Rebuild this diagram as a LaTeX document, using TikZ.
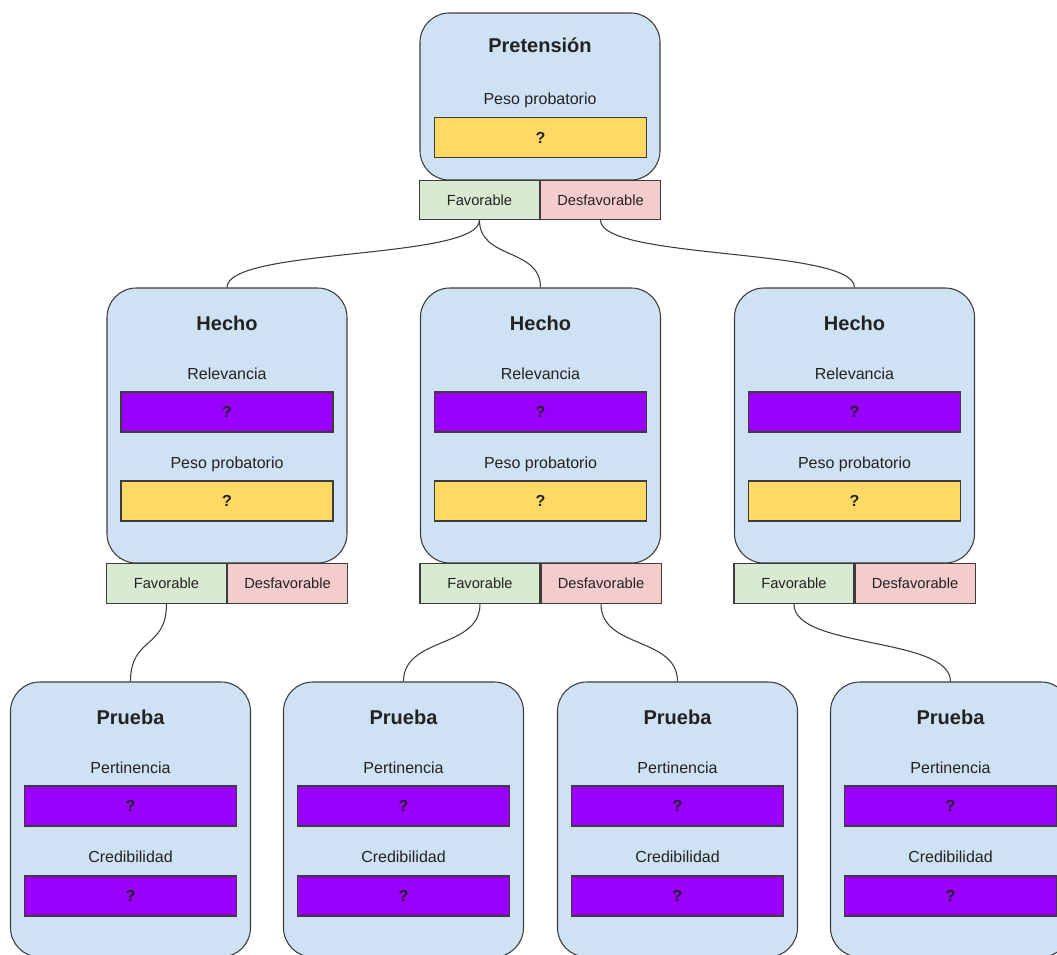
\documentclass[tikz,border=0pt]{standalone}
\usepackage{fontspec}
\setmainfont{Liberation Sans}
\definecolor{cardblue}{HTML}{CFE2F3}
\definecolor{yel}{HTML}{FFD966}
\definecolor{pur}{HTML}{9900FF}
\definecolor{grn}{HTML}{D9EAD3}
\definecolor{pnk}{HTML}{F4CCCC}
\definecolor{linec}{HTML}{3C3C3C}
\definecolor{txt}{HTML}{222222}
\begin{document}
\begin{tikzpicture}[x=0.75pt,y=-0.75pt,
  card/.style={draw=linec, fill=cardblue, rounded corners=22pt, line width=0.8pt, minimum width=180pt, inner sep=0pt},
  valbox/.style={draw=linec, line width=0.8pt, minimum width=159pt, minimum height=30pt, inner sep=0pt, text=txt, font=\fontsize{12}{14}\selectfont\bfseries},
  yellowbox/.style={valbox, fill=yel},
  purplebox/.style={valbox, fill=pur},
  choice/.style={draw=linec, line width=0.8pt, minimum width=90pt, minimum height=30pt, inner sep=0pt, text=txt, font=\fontsize{11}{13}\selectfont},
  favbox/.style={choice, fill=grn},
  desbox/.style={choice, fill=pnk},
  title/.style={text=txt, inner sep=0pt, font=\fontsize{15}{18}\selectfont\bfseries},
  lab/.style={text=txt, inner sep=0pt, font=\fontsize{12}{14}\selectfont},
  conn/.style={draw=linec, line width=0.8pt}
]
\useasboundingbox (0,0) rectangle (1057,954);
\clip (0,0) rectangle (1057,954);
% Top card
\node[card, minimum height=125.25pt] (p) at (540,96.5) {};
\node[title] (p-t) at (540,45) {Pretensión};
\node[lab] (p-l) at (540,100) {Peso probatorio};
\node[yellowbox] (p-b) at (540.5,137.5) {?};
\node[favbox, anchor=north east, minimum height=29.25pt] (p-f) at (540,180) {Favorable};
\node[desbox, anchor=north west, minimum height=29.25pt] (p-d) at (540,180) {Desfavorable};
% Hecho cards
\foreach \n/\cx in {h1/227,h2/540.5,h3/854.5} {
  \node[card, minimum height=206.25pt] (\n) at (\cx,425.5) {};
  \node[title] (\n-t) at (\cx,323) {Hecho};
  \node[lab] (\n-l1) at (\cx,374) {Relevancia};
  \node[purplebox] (\n-b1) at (\cx,412) {?};
  \node[lab] (\n-l2) at (\cx,464) {Peso probatorio};
  \node[yellowbox] (\n-b2) at (\cx,501) {?};
  \node[favbox, anchor=north east] (\n-f) at (\cx,563) {Favorable};
  \node[desbox, anchor=north west] (\n-d) at (\cx,563) {Desfavorable};
}
% Prueba cards
\foreach \n/\cx in {q1/130.5,q2/403.5,q3/677.5,q4/950.5} {
  \node[card, minimum height=206.25pt] (\n) at (\cx,819.5) {};
  \node[title] (\n-t) at (\cx,717) {Prueba};
  \node[lab] (\n-l1) at (\cx,768) {Pertinencia};
  \node[purplebox] (\n-b1) at (\cx,806) {?};
  \node[lab] (\n-l2) at (\cx,857) {Credibilidad};
  \node[purplebox] (\n-b2) at (\cx,896) {?};
}
% Connectors
\draw[conn] (p-f.south) .. controls +(0,40) and +(0,-40) .. (h1.north);
\draw[conn] (p-f.south) .. controls +(0,40) and +(0,-40) .. (h2.north);
\draw[conn] (p-d.south) .. controls +(0,40) and +(0,-40) .. (h3.north);
\draw[conn] (h1-f.south) .. controls +(0,45) and +(0,-45) .. (q1.north);
\draw[conn] (h2-f.south) .. controls +(0,45) and +(0,-45) .. (q2.north);
\draw[conn] (h2-d.south) .. controls +(0,45) and +(0,-45) .. (q3.north);
\draw[conn] (h3-f.south) .. controls +(0,45) and +(0,-45) .. (q4.north);
\end{tikzpicture}
\end{document}
